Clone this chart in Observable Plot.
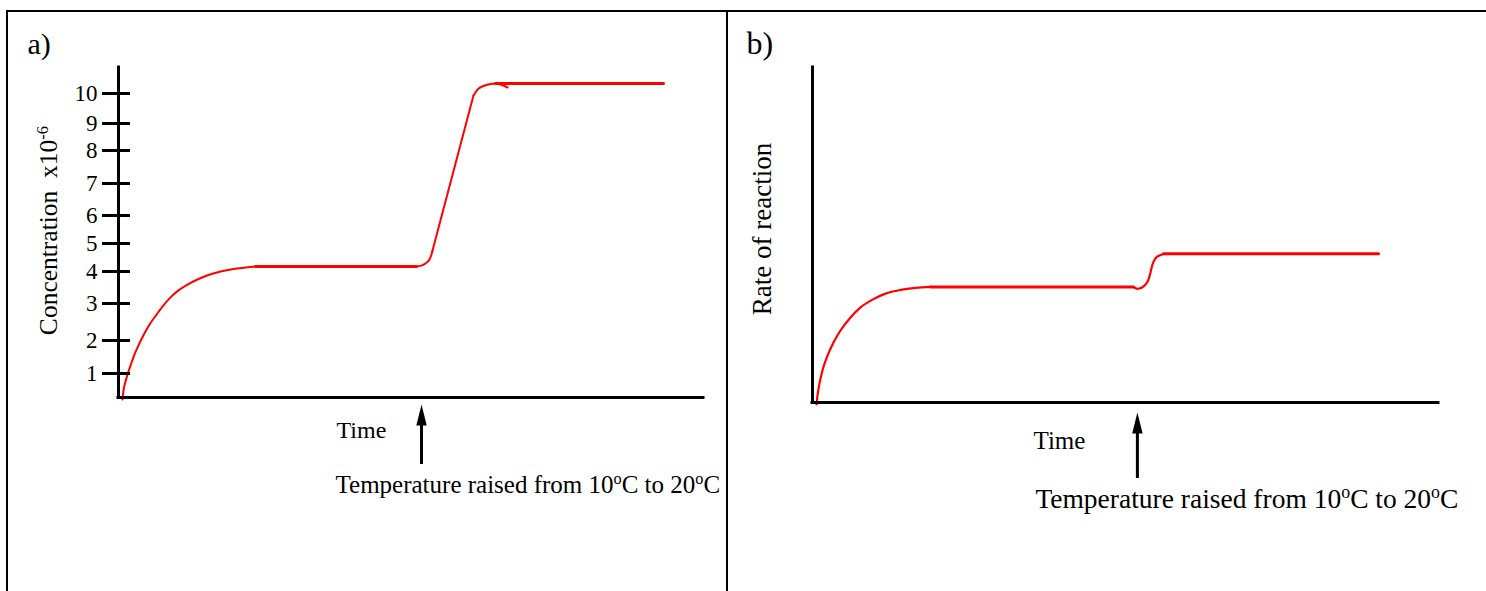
<!DOCTYPE html>
<html>
<head>
<meta charset="utf-8">
<script src="https://cdn.jsdelivr.net/npm/d3@7"></script>
<script src="https://cdn.jsdelivr.net/npm/@observablehq/plot@0.6"></script>
<style>
html, body { margin: 0; padding: 0; background: #fff; }
#wrap { position: relative; width: 1486px; height: 591px; overflow: hidden; background: #fff; }
#wrap svg { position: absolute; top: 0; }
.rulebox { position: absolute; background: #000; z-index: 2; }
</style>
</head>
<body>
<div id="wrap">
  <div class="rulebox" style="left:6px;top:10px;width:1480px;height:2px"></div>
  <div class="rulebox" style="left:6px;top:10px;width:2px;height:581px"></div>
  <div class="rulebox" style="left:726px;top:10px;width:2px;height:581px"></div>
</div>
<script>
// ---------- Panel a) : concentration vs time ----------
const concTicks = [1, 2, 3, 4, 5, 6, 7, 8, 9, 10];
const concTime = [
  0.68, 0.85, 1.20, 1.54, 2.05, 2.74, 3.42, 4.27, 5.30, 6.50, 7.69, 8.89, 10.26, 11.79, 13.50, 15.38, 17.44, 19.66, 21.71, 23.42,
  23.42, 50.94,
  50.94, 51.62, 52.48, 53.16, 53.50, 53.68,
  53.68, 60.68,
  60.68, 61.37, 62.39, 63.59, 64.44,
  64.44, 93.16,
  64.44, 65.30, 66.50
];
const concValue = [
  -0.08, 0.29, 0.67, 0.96, 1.24, 1.58, 1.85, 2.14, 2.43, 2.70, 2.95, 3.19, 3.41, 3.59, 3.75, 3.89, 4.00, 4.09, 4.14, 4.18,
  4.18, 4.18,
  4.18, 4.20, 4.29, 4.43, 4.61, 4.75,
  4.75, 9.93,
  9.93, 10.13, 10.25, 10.32, 10.33,
  10.33, 10.33,
  10.33, 10.30, 10.20
];
const concPart = [
  ...Array(20).fill("rise"),
  "plateau1", "plateau1",
  ...Array(6).fill("bend1"),
  "jump", "jump",
  ...Array(5).fill("bend2"),
  "plateau2", "plateau2",
  "hook", "hook", "hook"
];
const tempRaiseTimeA = 51.8;

// ---------- Panel b) : rate of reaction vs time ----------
const rateTime = [
  0.64, 0.80, 1.12, 1.60, 2.40, 3.35, 4.47, 6.07, 7.67, 9.58, 11.66, 14.06, 16.45, 18.85,
  18.85, 51.28,
  51.28, 51.92, 53.04, 53.67, 53.99, 54.31, 54.79, 55.43, 56.07,
  56.07, 90.42
];
const rateValue = [
  -0.06, 0.21, 0.57, 0.96, 1.40, 1.79, 2.15, 2.54, 2.84, 3.07, 3.25, 3.36, 3.42, 3.45,
  3.45, 3.45,
  3.45, 3.39, 3.49, 3.67, 3.88, 4.12, 4.30, 4.39, 4.43,
  4.44, 4.44
];
const ratePart = [
  ...Array(14).fill("rise"),
  "plateau1", "plateau1",
  ...Array(9).fill("step"),
  "plateau2", "plateau2"
];
const tempRaiseTimeB = 51.9;

// ---------- Text ----------
const panelLabels = ["a)", "b)"];
const yLabelA = "Concentration\u00a0 x10^{-6}";
const yLabelB = "Rate of reaction";
const xLabel = "Time";
const noteText = "Temperature raised from 10^{o}C to 20^{o}C";

// ---------- layout / style ----------
const thickParts = ["plateau1", "plateau2"];
// the hand-drawn axis of panel a) has uneven tick spacing: drawn height of each tick 0..10
const concDrawnHeight = d3.scaleLinear()
  .domain([0, 1, 2, 3, 4, 5, 6, 7, 8, 9, 10])
  .range([0, 24, 57, 94, 126, 154, 182, 214, 247, 274, 304]);
const serif = "'Liberation Serif', 'Times New Roman', Times, serif";
const red = "#ff0000";

const concData = concTime.map((t, i) => ({t, v: concValue[i], part: concPart[i]}));
const rateData = rateTime.map((t, i) => ({t, v: rateValue[i], part: ratePart[i]}));

const tallTriangle = {
  draw(context) {
    context.moveTo(0, -10.5);
    context.lineTo(5.2, 10.5);
    context.lineTo(-5.2, 10.5);
    context.closePath();
  }
};

function applySuperscripts(svg) {
  d3.select(svg).selectAll("text").each(function () {
    const s = this.textContent;
    if (!s.includes("^{")) return;
    const parts = s.split(/\^\{([^}]*)\}/);
    while (this.firstChild) this.removeChild(this.firstChild);
    const sel = d3.select(this);
    parts.forEach((p, i) => {
      if (p === "") return;
      const ts = sel.append("tspan").text(p);
      if (i % 2 === 1) ts.attr("font-size", "65%").attr("dy", "-0.55em");
      else if (i > 0) ts.attr("dy", "0.3575em");
    });
  });
}

const baseStyle = {background: "transparent", fontFamily: serif, fontSize: "24px", color: "black", overflow: "visible"};

const plotA = Plot.plot({
  width: 727, height: 591,
  marginLeft: 118, marginRight: 24, marginTop: 67, marginBottom: 194,
  style: baseStyle,
  x: {domain: [0, 100], axis: null},
  y: {domain: [0, 330], transform: v => concDrawnHeight(v), axis: null},
  marks: [
    Plot.line(concData, {filter: d => !thickParts.includes(d.part), x: "t", y: "v", z: "part", stroke: red, strokeWidth: 2, curve: "monotone-x"}),
    Plot.line(concData, {filter: d => thickParts.includes(d.part), x: "t", y: "v", z: "part", stroke: red, strokeWidth: 3}),
    Plot.ruleX([0], {strokeWidth: 3, strokeLinecap: "square"}),
    Plot.ruleY([0], {strokeWidth: 3, strokeLinecap: "square"}),
    Plot.ruleY(concTicks, {x1: 0, x2: 0, insetLeft: -16, insetRight: -12, strokeWidth: 3}),
    Plot.text(concTicks, {y: d => d, text: d => String(d), frameAnchor: "left", dx: -21, textAnchor: "end", lineAnchor: "middle", fontSize: 23}),
    Plot.text([panelLabels[0]], {frameAnchor: "top-left", dx: -91, dy: -14, textAnchor: "start", lineAnchor: "bottom", fontSize: 30}),
    Plot.text([yLabelA], {frameAnchor: "left", rotate: -90, dx: -70, dy: -2, textAnchor: "middle", lineAnchor: "middle", fontSize: 25.5}),
    Plot.text([xLabel], {frameAnchor: "bottom-left", dx: 218, dy: 40, textAnchor: "start", lineAnchor: "bottom", fontSize: 24}),
    Plot.ruleX([tempRaiseTimeA], {insetTop: 353, insetBottom: -67, strokeWidth: 3}),
    Plot.dot([tempRaiseTimeA], {x: d => d, frameAnchor: "bottom", dy: 17.5, symbol: tallTriangle, fill: "black", stroke: "none"}),
    Plot.text([noteText], {x: tempRaiseTimeA, frameAnchor: "bottom", dx: -86, dy: 95, textAnchor: "start", lineAnchor: "bottom", fontSize: 25})
  ]
});

const plotB = Plot.plot({
  width: 759, height: 591,
  marginLeft: 85, marginRight: 48, marginTop: 67, marginBottom: 189,
  style: baseStyle,
  x: {domain: [0, 100], axis: null},
  y: {domain: [0, 10], axis: null},
  marks: [
    Plot.line(rateData, {filter: d => !thickParts.includes(d.part), x: "t", y: "v", z: "part", stroke: red, strokeWidth: 2.2, curve: "monotone-x"}),
    Plot.line(rateData, {filter: d => thickParts.includes(d.part), x: "t", y: "v", z: "part", stroke: red, strokeWidth: 3}),
    Plot.ruleX([0], {strokeWidth: 3, strokeLinecap: "square"}),
    Plot.ruleY([0], {strokeWidth: 3, strokeLinecap: "square"}),
    Plot.text([panelLabels[1]], {frameAnchor: "top-left", dx: -66, dy: -14, textAnchor: "start", lineAnchor: "bottom", fontSize: 32}),
    Plot.text([yLabelB], {frameAnchor: "left", rotate: -90, dx: -50, dy: -6, textAnchor: "middle", lineAnchor: "middle", fontSize: 27}),
    Plot.text([xLabel], {frameAnchor: "bottom-left", dx: 221, dy: 46, textAnchor: "start", lineAnchor: "bottom", fontSize: 25}),
    Plot.ruleX([tempRaiseTimeB], {insetTop: 361, insetBottom: -76, strokeWidth: 3}),
    Plot.dot([tempRaiseTimeB], {x: d => d, frameAnchor: "bottom", dy: 20.5, symbol: tallTriangle, fill: "black", stroke: "none"}),
    Plot.text([noteText], {x: tempRaiseTimeB, frameAnchor: "bottom", dx: -102, dy: 105, textAnchor: "start", lineAnchor: "bottom", fontSize: 27.5})
  ]
});

applySuperscripts(plotA);
applySuperscripts(plotB);
plotA.style.left = "0px";
plotB.style.left = "727px";
const wrap = document.getElementById("wrap");
wrap.appendChild(plotA);
wrap.appendChild(plotB);
</script>
</body>
</html>
